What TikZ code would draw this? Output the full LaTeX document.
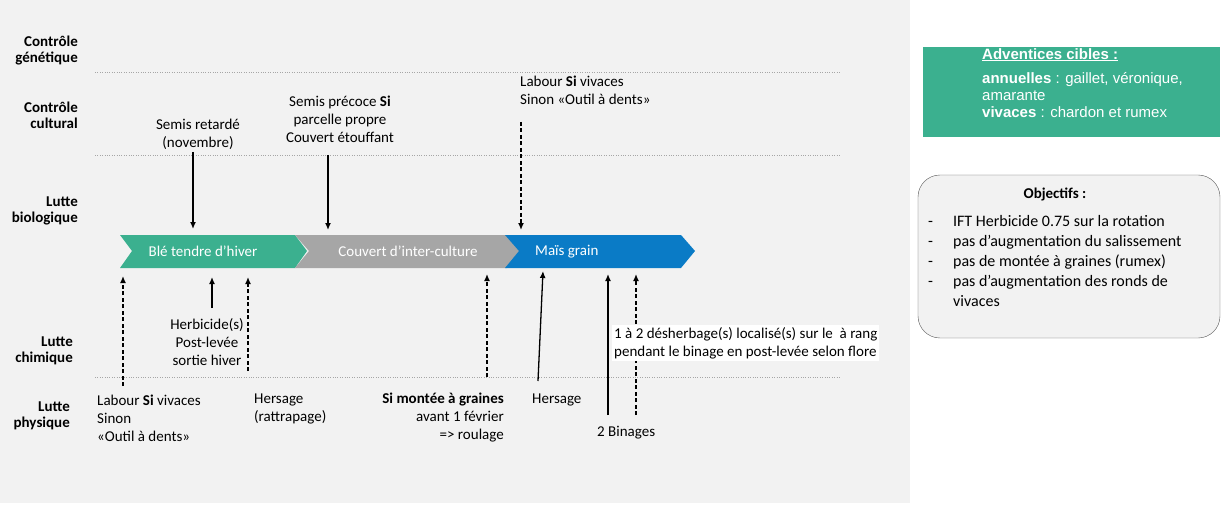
\documentclass[tikz,border=0pt]{standalone}
\usepackage{fontspec}
\setmainfont{Carlito}
\newfontfamily\arialfont{Liberation Sans}
\usetikzlibrary{positioning,arrows.meta}
\definecolor{ble}{HTML}{3BB08F}
\definecolor{couvert}{HTML}{A6A6A6}
\definecolor{mais}{HTML}{0A7BC6}
\definecolor{fond}{HTML}{F2F2F2}
\tikzset{
  lutte/.style={align=right, anchor=east, inner sep=0pt, font=\bfseries\fontsize{15}{16}\selectfont},
  note/.style={align=center, font=\fontsize{15}{18}\selectfont, inner sep=0pt},
  flow/.style={-{Latex[length=7pt,width=6pt]}, line width=1.3pt},
  maybe/.style={flow, dashed, dash pattern=on 4pt off 2.5pt},
  sep/.style={draw=gray!70, dotted, thin},
}
\begin{document}
\begin{tikzpicture}[x=1pt, y=-1pt]
  \useasboundingbox (0,0) rectangle (1227,508);
  \fill[fond] (0,0) rectangle (910,503);

  % niveaux de lutte
  \node[lutte] (gen) at (78,51) {Contrôle\\génétique};
  \node[lutte] (cult) at (78,115) {Contrôle\\cultural};
  \node[lutte] (bio) at (78,211) {Lutte\\biologique};
  \node[lutte] (chim) at (73,351) {Lutte\\chimique};
  \node[lutte] (phys) at (70,416) {Lutte\\physique};
  \draw[sep] (95,72) -- (840,72);
  \draw[sep] (95,155) -- (840,155);
  \draw[sep] (95,377) -- (840,377);

  % rotation
  \fill[ble] (120,235) -- (295,235) -- (307,251) -- (295,268) -- (120,268) -- (132,251) -- cycle;
  \fill[couvert] (295,235) -- (507,235) -- (521,251) -- (507,268) -- (295,268) -- (309,251) -- cycle;
  \fill[mais] (505,235) -- (681,235) -- (695,251) -- (681,268) -- (505,268) -- (519,251) -- cycle;
  \node[note, text=white] (ble) at (203,251) {Blé tendre d’hiver};
  \node[note, text=white] (couv) at (408,251) {Couvert d’inter-culture};
  \node[note, text=white, anchor=west] (mais) at (535,252) {Maïs grain};

  % interventions du haut
  \node[note] (semr) at (198,134) {Semis retardé\\(novembre)};
  \node[note] (semp) at (340,119) {Semis précoce \textbf{Si}\\parcelle propre\\Couvert étouffant};
  \node[note, align=left, anchor=north west] (labm) at (520,76) {Labour \textbf{Si} vivaces\\Sinon «Outil à dents»};
  \coordinate (a1) at (193,229);
  \coordinate (a2) at (328,230);
  \coordinate (a3) at (521,230);
  \draw[flow] (193,152) -- (a1);
  \draw[flow] (328,155) -- (a2);
  \draw[maybe] (521,122) -- (a3);

  % interventions du bas
  \node[note] (herb) at (207,342) {Herbicide(s)\\Post-levée\\sortie hiver};
  \node[note, align=left, anchor=north west] (labb) at (97,395) {Labour \textbf{Si} vivaces\\Sinon\\«Outil à dents»};
  \node[note, align=left, anchor=north west] (hers) at (254,394) {Hersage\\(rattrapage)};
  \node[note, align=right, anchor=north east] (roul) at (504,393) {\textbf{Si montée à graines}\\avant 1 février\\=> roulage};
  \node[note, anchor=west] (hersm) at (532,400) {Hersage};
  \node[note, anchor=west] (bin) at (597,433) {2 Binages};
  \coordinate (b1) at (123,276);
  \coordinate (b2) at (212,277);
  \coordinate (b3) at (248,277);
  \coordinate (b4) at (487,274);
  \coordinate (b5) at (543,271);
  \coordinate (b6) at (608,274);
  \coordinate (b7) at (636,274);
  \draw[maybe] (123,386) -- (b1);
  \draw[flow] (212,308) -- (b2);
  \draw[maybe] (248,371) -- (b3);
  \draw[maybe] (487,377) -- (b4);
  \draw[flow] (538,381) -- (b5);
  \draw[flow] (608,415) -- (b6);
  \draw[maybe] (636,415) -- (b7);
  \node[note, align=left, anchor=north west, fill=white, inner sep=2pt] (loc) at (612,325)
    {1 à 2 désherbage(s) localisé(s) sur le~ à rang\\pendant le binage en post-levée selon flore};

  % cadres de droite
  \fill[ble] (923,47) rectangle (1220,137);
  \node[anchor=north west, align=left, text=white, inner sep=0pt, font=\arialfont\fontsize{15}{17}\selectfont] (adv) at (982,48)
    {\textbf{\underline{Adventices cibles :}}\\[7pt]\textbf{annuelles} : gaillet, véronique,\\amarante\\\textbf{vivaces} : chardon et rumex};
  \draw[gray!70!black, fill=fond, rounded corners=22pt] (918,175) rectangle (1220,338);
  \node[font=\bfseries\fontsize{15}{18}\selectfont] (obj) at (1055,194) {Objectifs :};
  \node[anchor=north west, align=left, inner sep=0pt, font=\fontsize{16}{20}\selectfont] (objl) at (928,215)
    {-\hspace{20pt}IFT Herbicide 0.75 sur la rotation\\
     -\hspace{20pt}pas d’augmentation du salissement\\
     -\hspace{20pt}pas de montée à graines (rumex)\\
     -\hspace{20pt}pas d’augmentation des ronds de\\
     \hspace{25pt}vivaces};
\end{tikzpicture}
\end{document}
